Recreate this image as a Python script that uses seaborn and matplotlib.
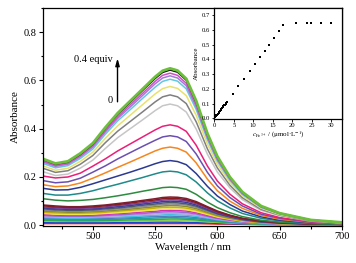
import pandas as pd
import seaborn as sns
import matplotlib.pyplot as plt
from matplotlib.ticker import MultipleLocator

# wavelength grid (nm)
wavelength = [460, 470, 480, 490, 500, 510, 520, 530, 540, 550, 556, 562,
              568, 575, 583, 592, 600, 610, 620, 635, 650, 675, 700]

# upper spectra, 0.4 equiv (top) downwards
upper = [
    [.275, .256, .265, .298, .340, .405, .465, .515, .565, .615, .640, .650, .641, .607, .515, .380, .285, .200, .138, .080, .050, .022, .012],
    [.272, .253, .262, .294, .336, .401, .460, .509, .559, .608, .633, .643, .634, .601, .509, .376, .282, .198, .136, .079, .050, .022, .012],
    [.266, .248, .257, .289, .330, .392, .450, .499, .547, .596, .621, .630, .621, .588, .499, .369, .276, .194, .134, .077, .049, .021, .011],
    [.262, .244, .253, .284, .324, .386, .443, .490, .538, .586, .610, .619, .610, .578, .490, .362, .271, .191, .131, .076, .048, .021, .011],
    [.256, .238, .247, .277, .316, .377, .433, .479, .526, .572, .596, .605, .597, .565, .479, .354, .265, .186, .128, .074, .047, .021, .011],
    [.246, .228, .236, .265, .303, .360, .412, .456, .500, .544, .566, .575, .567, .537, .455, .336, .252, .177, .122, .071, .044, .020, .010],
    [.236, .219, .226, .253, .289, .342, .390, .430, .470, .511, .532, .540, .532, .504, .428, .316, .237, .166, .114, .066, .042, .018, .010],
    [.222, .206, .212, .237, .270, .318, .363, .400, .437, .475, .495, .502, .495, .469, .398, .294, .220, .155, .106, .062, .039, .017, .009],
    [.204, .196, .200, .216, .245, .275, .308, .337, .366, .395, .410, .416, .410, .389, .331, .245, .183, .129, .089, .052, .032, .015, .008],
    [.185, .176, .180, .195, .220, .246, .275, .301, .327, .352, .366, .371, .366, .347, .295, .219, .163, .115, .080, .046, .029, .013, .007],
    [.168, .160, .163, .175, .195, .217, .240, .262, .285, .308, .319, .324, .319, .303, .258, .191, .143, .100, .070, .041, .025, .012, .006],
    [.153, .146, .147, .157, .172, .188, .204, .220, .237, .255, .264, .268, .264, .251, .214, .161, .121, .086, .059, .035, .021, .010, .006],
    [.132, .125, .125, .132, .143, .157, .170, .184, .198, .213, .221, .224, .221, .209, .179, .134, .101, .072, .049, .029, .018, .009, .005],
    [.110, .104, .101, .103, .107, .114, .122, .131, .141, .150, .156, .158, .156, .149, .128, .096, .073, .052, .036, .021, .013, .007, .004],
    [.084, .080, .077, .077, .080, .084, .090, .096, .103, .110, .115, .117, .116, .111, .098, .077, .059, .042, .029, .018, .011, .006, .004],
]
upper_colors = ["#6cbf3a", "#151515", "#d04fc4", "#a27bd6", "#62c8e2", "#e8e26c",
                "#7f7f7f", "#c6c6c6", "#ec1e79", "#6b4fb0", "#f7851e", "#2b3990",
                "#1f8a8a", "#2e8b3e", "#7b1e2e"]

# lower spectra (small additions)
lower = [
    [.081, .076, .074, .074, .076, .081, .086, .092, .099, .105, .110, .112, .111, .106, .094, .074, .056, .040, .028, .017, .011, .006, .004],
    [.076, .072, .070, .070, .072, .076, .082, .087, .093, .100, .104, .106, .105, .101, .089, .070, .053, .038, .027, .016, .010, .006, .004],
    [.072, .068, .066, .066, .068, .072, .077, .082, .088, .094, .098, .100, .099, .095, .084, .066, .050, .036, .025, .015, .010, .005, .004],
    [.068, .064, .062, .062, .064, .068, .072, .077, .083, .088, .092, .094, .093, .089, .079, .062, .047, .034, .024, .014, .009, .005, .003],
    [.063, .060, .058, .058, .060, .063, .068, .072, .077, .083, .086, .088, .087, .084, .074, .058, .044, .032, .022, .013, .008, .005, .003],
    [.059, .056, .054, .054, .056, .059, .063, .067, .072, .077, .080, .082, .081, .078, .069, .054, .041, .030, .021, .012, .008, .004, .003],
    [.054, .051, .050, .050, .051, .054, .058, .062, .066, .071, .074, .075, .074, .071, .063, .050, .038, .027, .019, .011, .007, .004, .003],
    [.049, .046, .045, .045, .046, .049, .052, .056, .060, .064, .067, .068, .067, .065, .057, .045, .034, .025, .017, .011, .007, .004, .003],
    [.045, .042, .041, .041, .042, .045, .048, .051, .055, .058, .061, .062, .061, .059, .052, .041, .031, .023, .016, .010, .006, .004, .003],
    [.041, .038, .037, .037, .038, .041, .043, .046, .049, .053, .055, .056, .055, .053, .047, .037, .028, .021, .015, .009, .006, .004, .003],
    [.037, .035, .034, .034, .035, .037, .039, .041, .044, .047, .049, .050, .049, .047, .042, .033, .026, .019, .014, .009, .006, .004, .003],
    [.033, .031, .030, .030, .031, .033, .034, .036, .039, .041, .043, .044, .043, .042, .037, .030, .023, .017, .013, .008, .006, .004, .003],
    [.029, .027, .026, .026, .027, .028, .030, .031, .034, .036, .037, .038, .037, .036, .032, .026, .020, .015, .011, .007, .005, .004, .003],
    [.025, .024, .023, .023, .023, .024, .025, .027, .028, .030, .031, .032, .031, .030, .027, .022, .017, .013, .010, .007, .005, .003, .003],
    [.021, .020, .019, .019, .019, .020, .021, .022, .023, .024, .025, .026, .026, .025, .022, .018, .015, .011, .009, .006, .005, .003, .003],
    [.017, .016, .016, .016, .016, .016, .017, .017, .018, .019, .020, .020, .020, .019, .017, .014, .012, .009, .007, .005, .004, .003, .003],
    [.012, .011, .011, .011, .011, .011, .012, .012, .012, .013, .013, .013, .013, .012, .011, .010, .008, .007, .005, .004, .003, .003, .002],
    [.007, .007, .007, .007, .007, .007, .007, .007, .007, .007, .007, .007, .007, .007, .007, .006, .005, .005, .004, .003, .003, .002, .002],
]
lower_colors = ["#8b1a1a", "#7a3f9a", "#3b3b9a", "#4a5a6a", "#8c8c8c", "#8b8b2a",
                "#c8b400", "#f0e442", "#d030c0", "#9a6ad0", "#c0a0e0", "#40c0e0",
                "#4a80c0", "#20a0a0", "#30b030", "#90d050", "#2040d0", "#e52020"]

# inset: absorbance at 562 nm vs Fe3+ concentration
conc = [0.0, 0.18, 0.36, 0.54, 0.72, 0.9, 1.08, 1.26, 1.44, 1.62, 1.8, 1.98, 2.16,
        2.34, 2.52, 2.7, 2.88, 3.06, 3.24,
        4.7, 6.2, 7.7, 9.25, 10.4, 11.7, 12.9, 14.1, 15.4, 16.5, 17.7,
        20.9, 23.8, 24.8, 27.5, 30.0]
conc_abs = [0.003, 0.007, 0.013, 0.020, 0.026, 0.032, 0.038, 0.044, 0.050, 0.056,
            0.062, 0.068, 0.075, 0.082, 0.088, 0.094, 0.100, 0.106, 0.114,
            0.166, 0.220, 0.270, 0.320, 0.370, 0.415, 0.455, 0.500, 0.547, 0.592,
            0.633, 0.644, 0.648, 0.648, 0.648, 0.648]

sns.set_theme(style="ticks")
plt.rcParams["font.family"] = ["Liberation Serif", "DejaVu Serif"]
plt.rcParams["mathtext.fontset"] = "stix"
plt.rcParams["axes.edgecolor"] = "black"
plt.rcParams["text.color"] = "black"
plt.rcParams["xtick.color"] = "black"
plt.rcParams["ytick.color"] = "black"
plt.rcParams["axes.labelcolor"] = "black"

spectra = upper + lower
colors = upper_colors + lower_colors
rows = []
for i, s in enumerate(spectra):
    for w, a in zip(wavelength, s):
        rows.append({"curve": f"c{i:02d}", "wl": w, "A": a})
df = pd.DataFrame(rows)

# draw lowest first so the 0.4 equiv curve ends on top
order = [f"c{i:02d}" for i in range(len(spectra))][::-1]
palette = {f"c{i:02d}": c for i, c in enumerate(colors)}

fig = plt.figure(figsize=(3.56, 2.63), dpi=100)
ax = fig.add_axes([0.1208, 0.1407, 0.8399, 0.8289])
sns.lineplot(data=df, x="wl", y="A", hue="curve", hue_order=order, palette=palette,
             legend=False, lw=1.1, estimator=None, ax=ax)
ax.lines[-1].set_linewidth(2.0)

ax.set_xlim(460, 700)
ax.set_ylim(-0.003, 0.9)
ax.xaxis.set_major_locator(MultipleLocator(50))
ax.xaxis.set_minor_locator(MultipleLocator(25))
ax.yaxis.set_major_locator(MultipleLocator(0.2))
ax.yaxis.set_minor_locator(MultipleLocator(0.1))
ax.yaxis.set_major_formatter(plt.FormatStrFormatter("%.1f"))
ax.tick_params(which="major", direction="out", length=3, width=0.8, labelsize=7.5, pad=1.5)
ax.tick_params(which="minor", direction="out", length=1.8, width=0.8)
for sp in ax.spines.values():
    sp.set_linewidth(0.9)
ax.set_xlabel("Wavelength / nm", fontsize=8, labelpad=1)
ax.set_ylabel("Absorbance", fontsize=8, labelpad=3)

# titration arrow
ax.annotate("", xy=(519.8, 0.703), xytext=(519.8, 0.50),
            arrowprops=dict(arrowstyle="-|>,head_length=0.35,head_width=0.1", lw=1.0, color="black"))
ax.text(516.3, 0.688, "0.4 equiv", ha="right", va="center", fontsize=7.5)
ax.text(515.8, 0.515, "0", ha="right", va="center", fontsize=7.5)

# inset
ins = fig.add_axes([0.602, 0.5475, 0.3587, 0.4221])
sns.scatterplot(x=conc, y=conc_abs, marker="s", s=2.5, color="black", linewidth=0, ax=ins)
ins.set_xlim(0, 32.8)
ins.set_ylim(-0.004, 0.748)
ins.xaxis.set_major_locator(MultipleLocator(5))
ins.yaxis.set_major_locator(MultipleLocator(0.1))
ins.yaxis.set_major_formatter(plt.FormatStrFormatter("%.1f"))
ins.tick_params(direction="out", length=1.8, width=0.6, labelsize=4.8, pad=1)
for sp in ins.spines.values():
    sp.set_linewidth(0.9)
ins.set_ylabel("Absorbance", fontsize=5, labelpad=2)
ins.set_xlabel(r"$c_{\mathrm{Fe}^{3+}}$ / (μmol·L$^{-1}$)", fontsize=5, labelpad=1)

fig.savefig("out.png", dpi=100)
